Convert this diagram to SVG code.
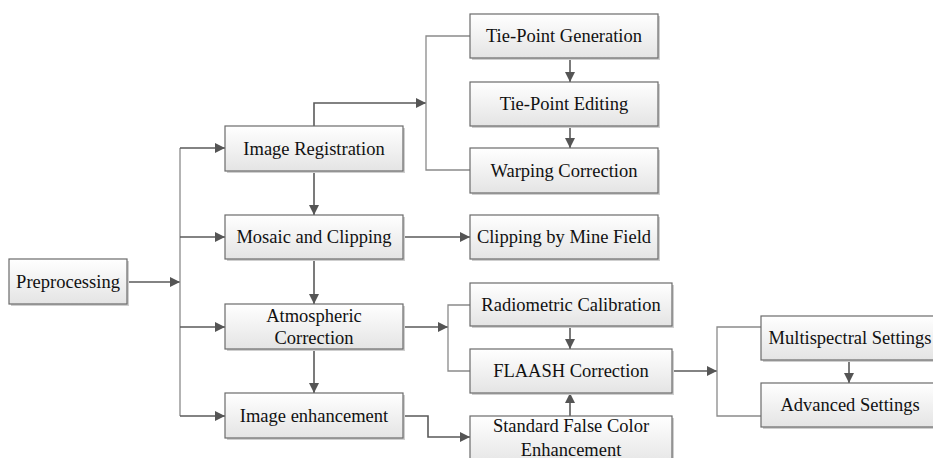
<svg xmlns="http://www.w3.org/2000/svg" width="933" height="458" viewBox="0 0 933 458">
<style>
.box{fill:url(#g);stroke:#6b6b6b;stroke-width:1.2}
.sh{fill:#cfcfcf}
.t{font-family:"Liberation Serif","Times New Roman",serif;font-size:18.5px;fill:#111;text-anchor:middle}
.c{fill:none;stroke:#5a5a5a;stroke-width:1.6}
.b{fill:none;stroke:#8a8a8a;stroke-width:1.3}
</style>
<defs>
<linearGradient id="g" x1="0" y1="0" x2="0" y2="1">
<stop offset="0" stop-color="#ffffff"/>
<stop offset="1" stop-color="#e4e4e4"/>
</linearGradient>
<marker id="a" viewBox="0 0 10 10" refX="10" refY="5" markerWidth="10" markerHeight="10" markerUnits="userSpaceOnUse" orient="auto">
<path d="M0,0 L10,5 L0,10 z" fill="#555"/>
</marker>
</defs>

<g id="connectors">
<path class="c" d="M127,282 H180" marker-end="url(#a)"/>
<path class="b" d="M180,148 V416"/>
<path class="c" d="M180,148 H225" marker-end="url(#a)"/>
<path class="c" d="M180,237 H225" marker-end="url(#a)"/>
<path class="c" d="M180,327 H225" marker-end="url(#a)"/>
<path class="c" d="M180,416 H225" marker-end="url(#a)"/>
<path class="c" d="M314,171 V215" marker-end="url(#a)"/>
<path class="c" d="M314,259 V304" marker-end="url(#a)"/>
<path class="c" d="M314,349 V393" marker-end="url(#a)"/>
<path class="c" d="M314,126 V103 H426" marker-end="url(#a)"/>
<path class="b" d="M470,36 H426 V170 H470"/>
<path class="c" d="M570,58 V82" marker-end="url(#a)"/>
<path class="c" d="M570,126 V148" marker-end="url(#a)"/>
<path class="c" d="M403,237 H470" marker-end="url(#a)"/>
<path class="c" d="M403,327 H448" marker-end="url(#a)"/>
<path class="b" d="M470,305 H448 V371 H470"/>
<path class="c" d="M570,326 V349" marker-end="url(#a)"/>
<path class="c" d="M570,416 V393" marker-end="url(#a)"/>
<path class="c" d="M403,416 H428 V437 H470" marker-end="url(#a)"/>
<path class="c" d="M672,371 H717" marker-end="url(#a)"/>
<path class="b" d="M761,327 H717 V416 H761"/>
<path class="c" d="M849,359 V383" marker-end="url(#a)"/>
</g>

<g id="n-pre"><rect class="sh" x="11" y="261" width="118" height="45"/><rect class="box" x="9" y="259" width="118" height="45"/><text class="t" x="68" y="288">Preprocessing</text></g>
<g id="n-reg"><rect class="sh" x="227" y="128" width="178" height="45"/><rect class="box" x="225" y="126" width="178" height="45"/><text class="t" x="314" y="154.5">Image Registration</text></g>
<g id="n-mos"><rect class="sh" x="227" y="217" width="178" height="44"/><rect class="box" x="225" y="215" width="178" height="44"/><text class="t" x="314" y="243">Mosaic and Clipping</text></g>
<g id="n-atm"><rect class="sh" x="227" y="306" width="178" height="45"/><rect class="box" x="225" y="304" width="178" height="45"/><text class="t" x="314" y="321.5">Atmospheric</text><text class="t" x="314" y="343.5">Correction</text></g>
<g id="n-enh"><rect class="sh" x="227" y="395" width="178" height="45"/><rect class="box" x="225" y="393" width="178" height="45"/><text class="t" x="314" y="422">Image enhancement</text></g>
<g id="n-tpg"><rect class="sh" x="472" y="16" width="188" height="44"/><rect class="box" x="470" y="14" width="188" height="44"/><text class="t" x="564" y="42">Tie-Point Generation</text></g>
<g id="n-tpe"><rect class="sh" x="472" y="84" width="188" height="44"/><rect class="box" x="470" y="82" width="188" height="44"/><text class="t" x="564" y="110">Tie-Point Editing</text></g>
<g id="n-war"><rect class="sh" x="472" y="150" width="188" height="45"/><rect class="box" x="470" y="148" width="188" height="45"/><text class="t" x="564" y="176.5">Warping Correction</text></g>
<g id="n-clip"><rect class="sh" x="472" y="217" width="188" height="44"/><rect class="box" x="470" y="215" width="188" height="44"/><text class="t" x="564" y="243">Clipping by Mine Field</text></g>
<g id="n-rad"><rect class="sh" x="472" y="285" width="202" height="43"/><rect class="box" x="470" y="283" width="202" height="43"/><text class="t" x="571" y="310.5">Radiometric Calibration</text></g>
<g id="n-fla"><rect class="sh" x="472" y="351" width="202" height="44"/><rect class="box" x="470" y="349" width="202" height="44"/><text class="t" x="571" y="377">FLAASH Correction</text></g>
<g id="n-sfc"><rect class="sh" x="472" y="418" width="202" height="50"/><rect class="box" x="470" y="416" width="202" height="50"/><text class="t" x="571" y="432">Standard False Color</text><text class="t" x="571" y="456">Enhancement</text></g>
<g id="n-mul"><rect class="sh" x="763" y="318" width="178" height="44"/><rect class="box" x="761" y="316" width="178" height="44"/><text class="t" x="850" y="344">Multispectral Settings</text></g>
<g id="n-adv"><rect class="sh" x="763" y="385" width="178" height="44"/><rect class="box" x="761" y="383" width="178" height="44"/><text class="t" x="850" y="411">Advanced Settings</text></g>
</svg>
